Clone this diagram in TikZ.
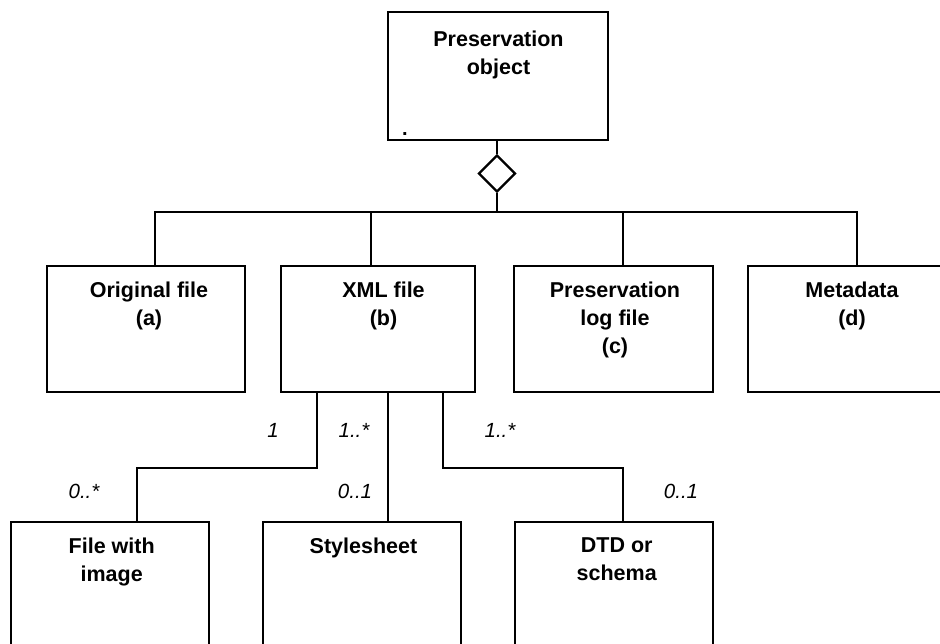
\documentclass[tikz,border=0pt]{standalone}
\usepackage{fontspec}
\setmainfont{Liberation Sans}
\usetikzlibrary{shapes.geometric}
\tikzset{
  box/.style={draw, rectangle, inner sep=0pt, line width=2.2pt},
  ttl/.style={font=\bfseries\fontsize{21.5}{28}\selectfont, align=center, anchor=north, inner sep=0pt},
  mult/.style={font=\itshape\fontsize{20.5}{24}\selectfont, inner sep=0pt, anchor=center},
  link/.style={draw, line width=2.2pt},
  agg/.style={draw, diamond, fill=white, inner sep=0pt, minimum width=37pt, minimum height=37pt, line width=2.2pt}
}
\begin{document}
\begin{tikzpicture}[x=1pt, y=-1pt]
\useasboundingbox (0,0) rectangle (940,643);
\clip (0,0) rectangle (940,643);

% aggregate object
\node[box, minimum width=220pt, minimum height=128pt] (root) at (498,76) {};
\node[ttl] (rootT) at (498.5,30.5) {Preservation\\object};
\node[inner sep=0pt, font=\bfseries\fontsize{20}{22}\selectfont] (rootDot) at (405,134.5) {.};
\node[agg] (dia) at (497,173.5) {};

% first level parts
\node[box, minimum width=198pt, minimum height=126pt] (orig) at (146,329) {};
\node[box, minimum width=194pt, minimum height=126pt] (xml)  at (378,329) {};
\node[box, minimum width=199pt, minimum height=126pt] (log)  at (613.5,329) {};
\node[box, minimum width=198pt, minimum height=126pt] (meta) at (847,329) {};
\node[ttl] (origT) at (149,281.5)   {Original file\\(a)};
\node[ttl] (xmlT)  at (383.5,281.5) {XML file\\(b)};
\node[ttl] (logT)  at (615,281.5)   {Preservation\\log file\\(c)};
\node[ttl] (metaT) at (852,281.5)   {Metadata\\(d)};

% parts of the XML file
\node[box, minimum width=198pt, minimum height=126pt] (img) at (110,585) {};
\node[box, minimum width=198pt, minimum height=126pt] (css) at (362,585) {};
\node[box, minimum width=198pt, minimum height=126pt] (dtd) at (614,585) {};
\node[ttl] (imgT) at (111.7,537.5) {File with\\image};
\node[ttl] (cssT) at (363.5,537.5) {Stylesheet};
\node[ttl] (dtdT) at (616.7,537.5) {DTD or\\schema};

% composition tree
\coordinate (bus) at (497,212);
\coordinate (origTop) at (155,266);
\coordinate (xmlTop)  at (371,266);
\coordinate (logTop)  at (623,266);
\coordinate (metaTop) at (857,266);
\path[link] (dia.north) -- (dia.north |- root.south);
\path[link] (dia.south) -- (bus);
\path[link] (origTop) -- (origTop |- bus) -- (metaTop |- bus) -- (metaTop);
\path[link] (xmlTop) -- (xmlTop |- bus);
\path[link] (logTop) -- (logTop |- bus);

% associations from the XML file
\coordinate (xA) at (317,392);
\coordinate (xB) at (388,392);
\coordinate (xC) at (443,392);
\coordinate (imgTop) at (137,522);
\coordinate (dtdTop) at (623,522);
\path[link] (xA) -- (317,468) -| (imgTop);
\path[link] (xB) -- (xB |- css.north);
\path[link] (xC) -- (443,468) -| (dtdTop);

% multiplicities
\node[mult] (m1) at (273,430) {1};
\node[mult] (m2) at (354,430) {1..*};
\node[mult] (m3) at (500,430) {1..*};
\node[mult] (m4) at (84,491)  {0..*};
\node[mult] (m5) at (355,491) {0..1};
\node[mult] (m6) at (681,491) {0..1};
\end{tikzpicture}
\end{document}
